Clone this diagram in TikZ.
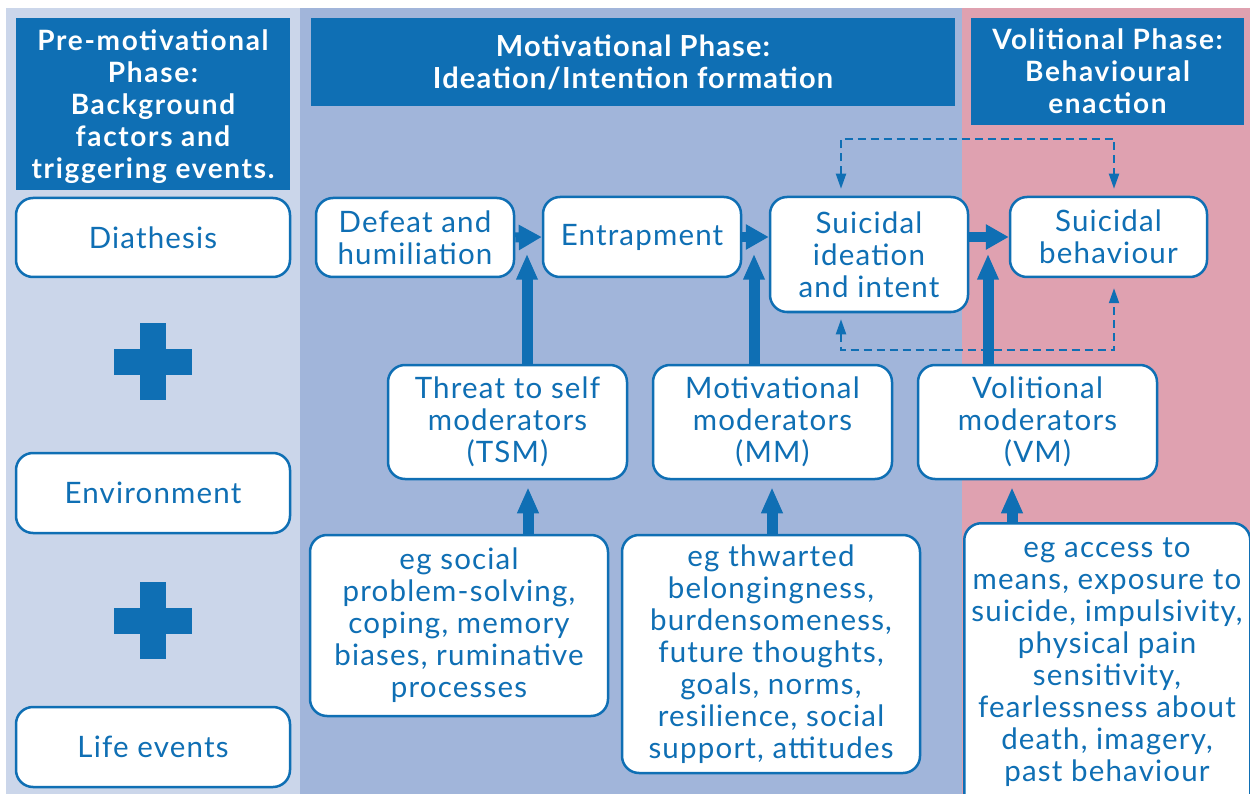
\documentclass[tikz,border=0pt]{standalone}
\usepackage{fontspec}
\setmainfont{Lato}
\newfontfamily\boxfont[LetterSpace=4]{Lato}
\newfontfamily\hdrfont[LetterSpace=6]{Lato}
\newfontfamily\midfont[LetterSpace=4]{Lato}
\usetikzlibrary{arrows.meta}
\definecolor{dblue}{HTML}{0F6FB4}
\definecolor{lpanel}{HTML}{CBD6EA}
\definecolor{mpanel}{HTML}{A1B5DA}
\definecolor{rpanel}{HTML}{DFA1B0}
\begin{document}
\begin{tikzpicture}[x=1pt,y=-1pt,
  box/.style={draw=dblue, line width=2.5pt, fill=white, rounded corners=17pt, text=dblue, align=center, font=\boxfont\fontsize{29.5}{32}\selectfont, inner sep=0pt},
  hdr/.style={fill=dblue, text=white, align=center, font=\hdrfont\bfseries\fontsize{28}{32}\selectfont, inner sep=0pt},
  fatv/.style={draw=dblue, line width=11pt, -{Triangle[length=26pt,width=20pt]}},
  fath/.style={draw=dblue, line width=10pt, -{Triangle[length=23pt,width=24pt]}},
  dasharr/.style={draw=dblue, line width=2pt, dash pattern=on 8pt off 5pt, {Triangle[length=15pt,width=10pt]}-{Triangle[length=15pt,width=10pt]}},
  plusbar/.style={fill=dblue, draw=none}
]
\useasboundingbox (0,0) rectangle (1250,794);
\fill[white] (0,0) rectangle (1250,794);
% panels
\fill[lpanel] (6,8) rectangle (300,794);
\fill[mpanel] (300,8) rectangle (962,794);
\fill[rpanel] (962,8) rectangle (1250,794);
% headers
\fill[dblue] (16,18) rectangle (290,190);
\node[hdr, fill=none, minimum width=274pt, minimum height=166pt] (hpre) at (153,107) {Pre-motivational\\Phase:\\Background\\factors and\\triggering events.};
\node[hdr, minimum width=644pt, minimum height=88pt, font=\midfont\bfseries\fontsize{29}{32}\selectfont] (hmot) at (633,62) {Motivational Phase:\\Ideation/Intention formation};
\node[hdr, minimum width=273pt, minimum height=107pt] (hvol) at (1107.5,71.5) {Volitional Phase:\\Behavioural\\enaction};
% left column
\node[box, minimum width=274pt, minimum height=79pt] (diath) at (153,237.5) {Diathesis};
\node[box, minimum width=274pt, minimum height=80pt] (env) at (153,493) {Environment};
\node[box, minimum width=274pt, minimum height=80pt] (life) at (153,747) {Life events};
\fill[plusbar] (114,348.5) rectangle (192,374.5);
\fill[plusbar] (140,323) rectangle (166,400);
\fill[plusbar] (114,607.5) rectangle (192,633.5);
\fill[plusbar] (140,582) rectangle (166,659);
% main chain
\node[box, minimum width=198pt, minimum height=79pt] (defeat) at (415,237.5) {Defeat and\\humiliation};
\node[box, minimum width=198pt, minimum height=80pt] (entrap) at (642,237) {Entrapment};
\node[box, minimum width=198pt, minimum height=115pt] (sii) at (869,254.5) {Suicidal\\ideation\\and intent};
\node[box, minimum width=197pt, minimum height=80pt] (sb) at (1108.5,237) {Suicidal\\behaviour};
% moderators
\node[box, minimum width=239pt, minimum height=114pt] (tsm) at (507.5,422) {Threat to self\\moderators\\(TSM)};
\node[box, minimum width=239pt, minimum height=114pt] (mm) at (772.5,422) {Motivational\\moderators\\(MM)};
\node[box, minimum width=239pt, minimum height=114pt] (vm) at (1037.5,422) {Volitional\\moderators\\(VM)};
% examples
\node[box, minimum width=298pt, minimum height=181pt] (tsmeg) at (459,625.5) {eg social\\problem-solving,\\coping, memory\\biases, ruminative\\processes};
\node[box, minimum width=298pt, minimum height=238pt] (mmeg) at (771,654) {eg thwarted\\belongingness,\\burdensomeness,\\future thoughts,\\goals, norms,\\resilience, social\\support, attitudes};
\node[box, minimum width=286pt, minimum height=290pt, anchor=north west] (vmeg) at (963,522) {};
\node[text=dblue, align=center, font=\boxfont\fontsize{29.5}{32}\selectfont, inner sep=0pt, anchor=north] (vmegtext) at (1107,537) {eg access to\\means, exposure to\\suicide, impulsivity,\\physical pain\\sensitivity,\\fearlessness about\\death, imagery,\\past behaviour};
% horizontal arrows
\draw[fath] (defeat.east) -- (entrap.west);
\draw[fath] (entrap.east) -- (entrap.east -| sii.west);
\draw[fath] (sii.east |- sb.west) -- (sb.west);
% vertical arrows up
\draw[fatv] ([xshift=19.5pt]tsm.north) -- ++(0,-110);
\draw[fatv] ([xshift=-18.5pt]mm.north) -- ++(0,-110);
\draw[fatv] ([xshift=-49.5pt]vm.north) -- ++(0,-110);
\draw[fatv] (tsmeg.north -| 528,0) -- ([yshift=-7pt]tsm.south -| 528,0);
\draw[fatv] (mmeg.north -| 772,0) -- ([yshift=-7pt]mm.south -| 772,0);
\draw[fatv] (vmeg.north -| 1012,0) -- ([yshift=-7pt]vm.south -| 1012,0);
% dashed feedback
\draw[dasharr] ([xshift=-28pt,yshift=7pt]sii.north) -- ++(0,-50) -| ([xshift=5.5pt,yshift=7pt]sb.north);
\draw[dasharr] ([xshift=-28pt,yshift=-6pt]sii.south) -- ++(0,31) -| ([xshift=5.5pt,yshift=-10pt]sb.south);
\end{tikzpicture}
\end{document}
